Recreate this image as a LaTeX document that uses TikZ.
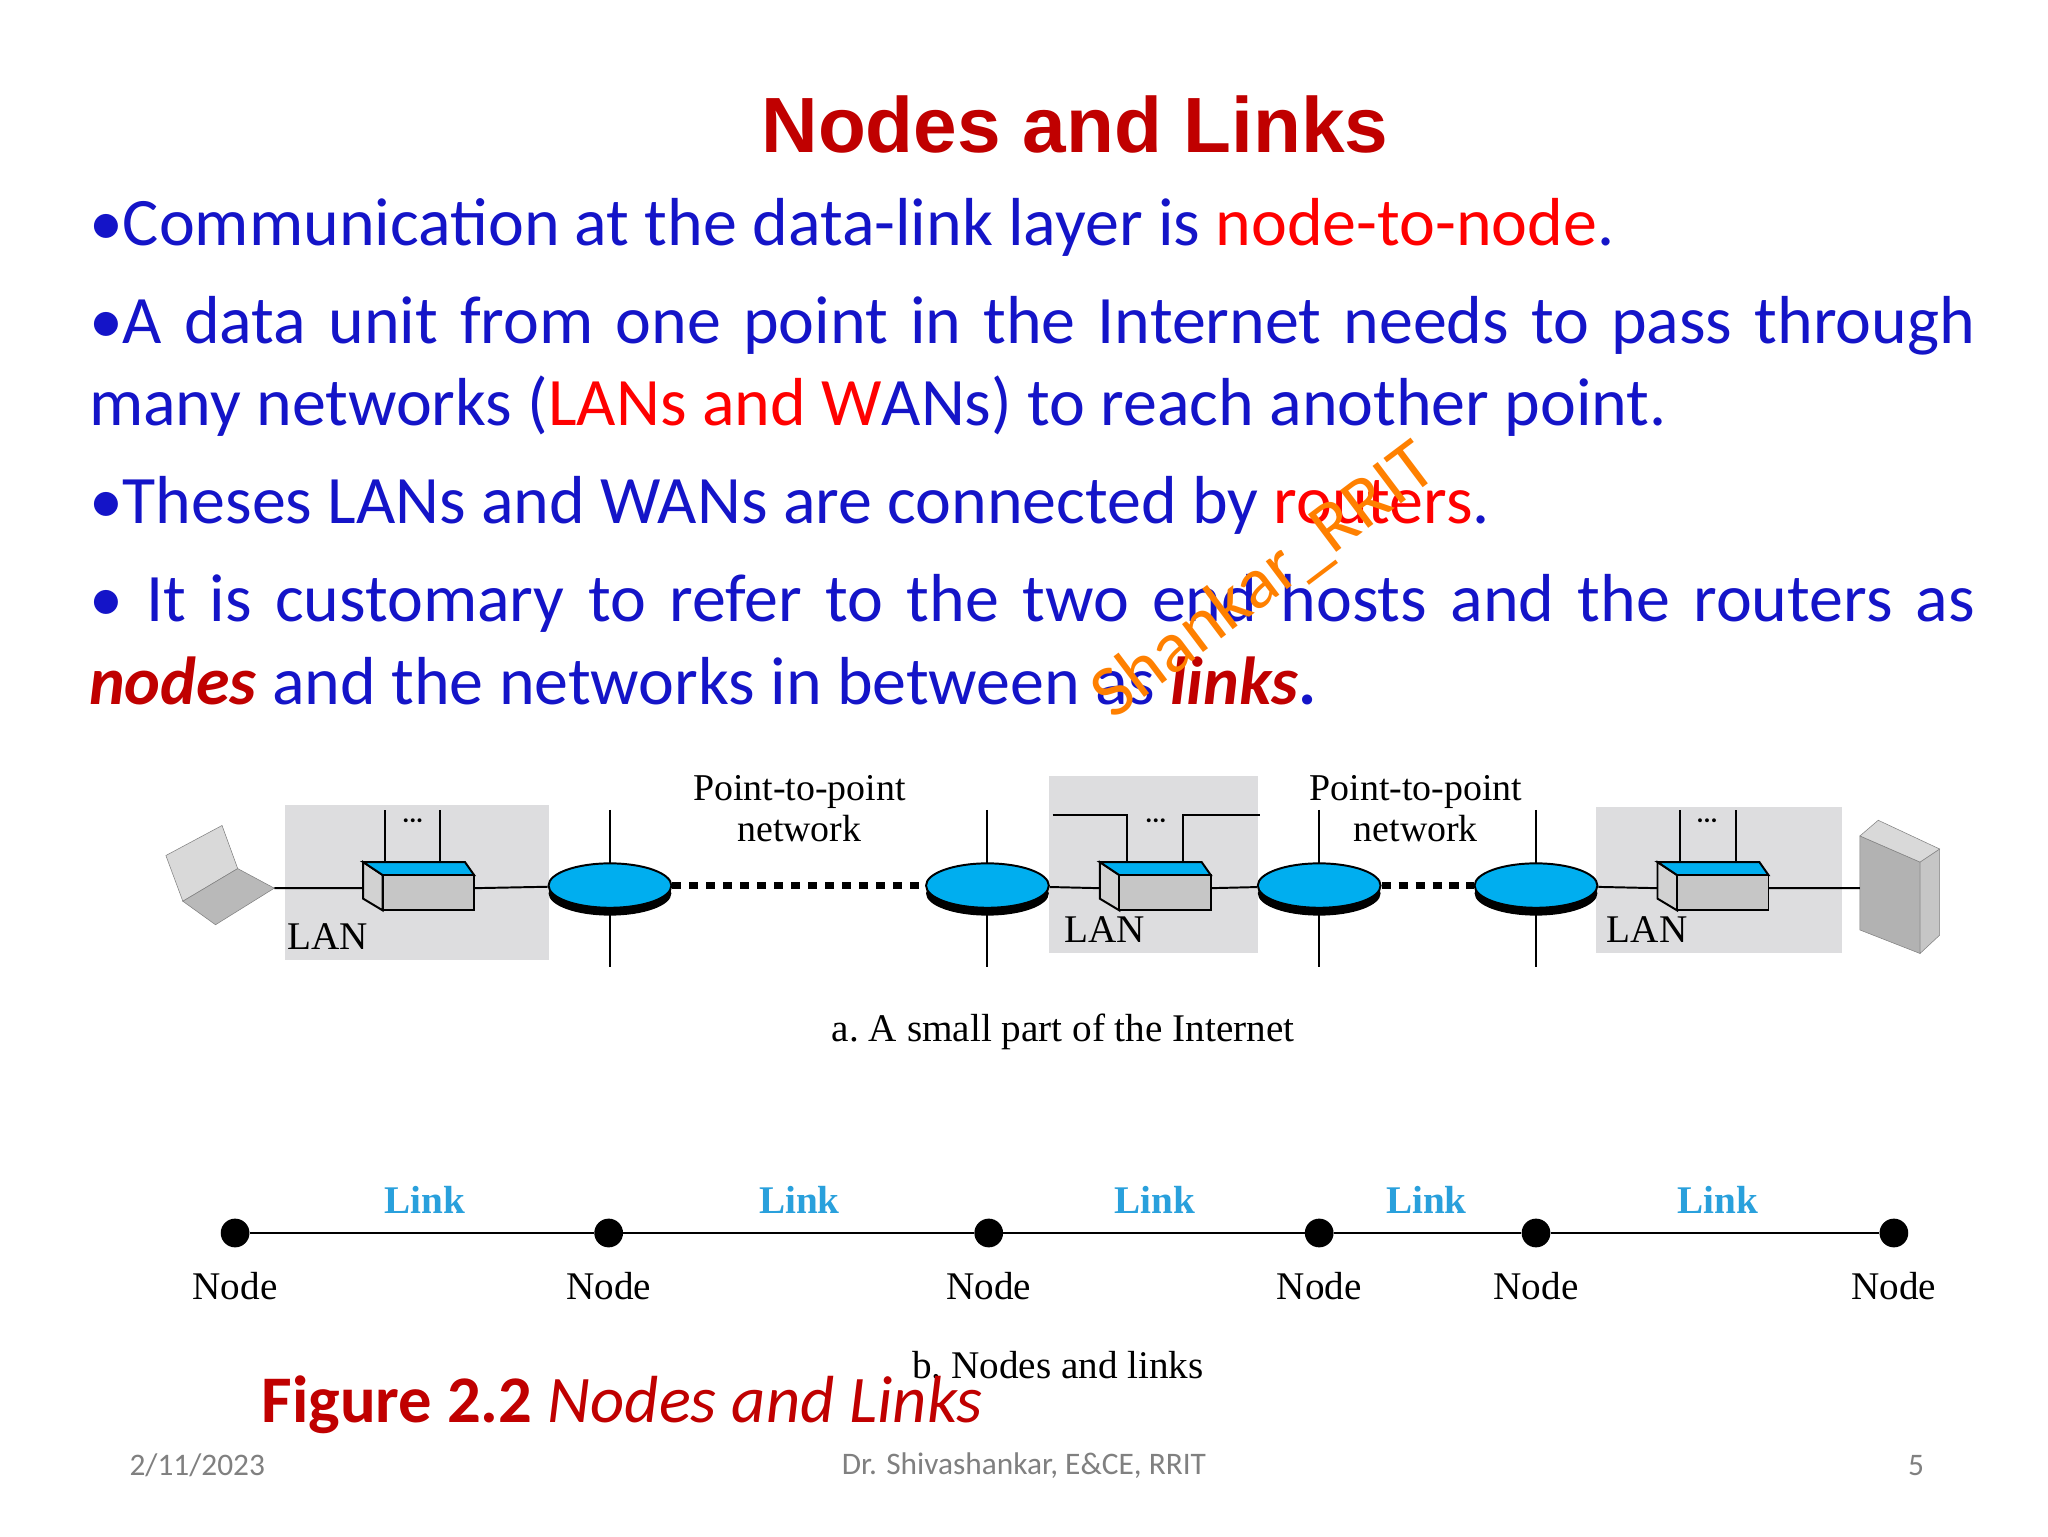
\documentclass[tikz,border=0pt]{standalone}
\usepackage{fontspec}
\setmainfont{Carlito}
\newfontfamily\titlefont{Liberation Sans}
\newfontfamily\figfont{Liberation Serif}
\usetikzlibrary{shapes.geometric,shadows}
\definecolor{txtblue}{RGB}{20,20,200}
\definecolor{hired}{RGB}{255,0,0}
\definecolor{darkred}{RGB}{192,0,0}
\definecolor{netblue}{RGB}{0,174,239}
\definecolor{langray}{RGB}{221,221,223}
\definecolor{linkblue}{RGB}{41,160,220}
\tikzset{
  line/.style={anchor=base west,inner sep=0,text=txtblue,font=\fontsize{52}{60}\selectfont},
  fig/.style={inner sep=0,font=\figfont\fontsize{30}{34}\selectfont},
  router/.style={ellipse,fill=netblue,draw=black,line width=1.5pt,minimum width=94pt,minimum height=34pt,inner sep=0,
    general shadow={fill=black,shadow yshift=-6pt}},
  dot/.style={circle,fill=black,minimum size=22pt,inner sep=0},
  link/.style={fig,text=linkblue,font=\figfont\bfseries\fontsize{30}{34}\selectfont},
}
\newcommand{\lanswitch}[2]{%
  \begin{scope}[shift={#1}]
    \filldraw[fill=gray!35,line width=1.5pt] (-15,-10) -- (0,0) -- (0,27) -- (-15,18) -- cycle;
    \filldraw[fill=netblue,line width=1.5pt] (-15,-10) -- (63,-10) -- (70,0) -- (0,0) -- cycle;
    \filldraw[fill=gray!45,line width=1.5pt] (0,0) rectangle (70,27);
    \coordinate (#2-l) at (-15,10);
    \coordinate (#2-r) at (70,10);
  \end{scope}}
\newcommand{\mysl}{\makebox[1444pt][s]}
\begin{document}
\begin{tikzpicture}[x=1pt,y=-1pt]
\useasboundingbox[fill=white] (0,0) rectangle (1568,1176);

% title and bullets
\node[text=darkred,font=\titlefont\bfseries\fontsize{60}{70}\selectfont] (title) at (823,95) {Nodes and Links};
\node[line] (l1) at (68,188) {\textbullet Communication at the data-link layer is \textcolor{hired}{node-to-node}.};
\node[line] (l2) at (68,263) {\mysl{\textbullet A data unit from one point in the Internet needs to pass through}};
\node[line] (l3) at (68,326) {many networks (\textcolor{hired}{LANs and W}ANs) to reach another point.};
\node[line] (l4) at (68,401) {\textbullet Theses LANs and WANs are connected by \textcolor{hired}{routers}.};
\node[line] (l5) at (68,476) {\mysl{\textbullet{} It is customary to refer to the two end hosts and the routers as}};
\node[line] (l6) at (68,539) {\textcolor{darkred}{\textbf{\textit{nodes}}} and the networks in between as \textcolor{darkred}{\textbf{\textit{links}}}\textbf{.}};
\node[text=orange,rotate=37,font=\fontsize{56}{60}\selectfont] (wm) at (968,445) {Shankar\_RRIT};

% LAN boxes
\fill[langray] (218,616) rectangle (420,735);
\fill[langray] (803,594) rectangle (963,730);
\fill[langray] (1222,618) rectangle (1410,730);

% laptop
\filldraw[fill=gray!30,draw=gray] (127,655) -- (170,632) -- (182,665) -- (140,690) -- cycle;
\filldraw[fill=gray!55,draw=gray] (140,690) -- (182,665) -- (210,680) -- (165,708) -- cycle;
\coordinate (pc) at (210,680);

% server
\filldraw[fill=gray!60,draw=gray] (1424,640) -- (1470,660) -- (1470,730) -- (1424,712) -- cycle;
\filldraw[fill=gray!45,draw=gray] (1470,660) -- (1485,650) -- (1485,716) -- (1470,730) -- cycle;
\filldraw[fill=gray!30,draw=gray] (1424,640) -- (1438,628) -- (1485,650) -- (1470,660) -- cycle;
\coordinate (srv) at (1424,680);

% switches
\lanswitch{(293,670)}{sw1}
\lanswitch{(857,670)}{sw2}
\lanswitch{(1284,670)}{sw3}

% routers with their stubs
\foreach \n/\x in {r1/467,r2/756,r3/1010,r4/1176}{
  \draw[line width=1.5pt] (\x,620) -- (\x,740);
  \node[router] (\n) at (\x,678) {};
}

% wires
\draw[line width=1.5pt] (pc) -- (sw1-l) (sw1-r) -- (r1);
\draw[line width=1.5pt] (r2) -- (sw2-l) (sw2-r) -- (r3);
\draw[line width=1.5pt] (r4) -- (sw3-l) (sw3-r) -- (srv);
\draw[line width=6pt,dash pattern=on 7pt off 6pt] (r1.east) -- (r2.west);
\draw[line width=6pt,dash pattern=on 7pt off 6pt] (r3.east) -- (r4.west);

% stubs over switches
\draw[line width=1.5pt] (295,660) -- (295,620) (337,660) -- (337,620);
\draw[line width=1.5pt] (806,624) -- (863,624) -- (863,660) (906,660) -- (906,624) -- (965,624);
\draw[line width=1.5pt] (1286,660) -- (1286,620) (1329,660) -- (1329,620);
\foreach \x in {316,885,1307}
  \node[fig,font=\bfseries\fontsize{20}{20}\selectfont] at (\x,628) {...};

% labels
\node[fig,align=center,font=\figfont\fontsize{29}{31}\selectfont] (p2p1) at (612,619) {Point-to-point\\network};
\node[fig,align=center,font=\figfont\fontsize{29}{31}\selectfont] (p2p2) at (1084,619) {Point-to-point\\network};
\node[fig,anchor=west] (lan1) at (220,717) {LAN};
\node[fig,anchor=west] (lan2) at (815,712) {LAN};
\node[fig,anchor=west] (lan3) at (1230,712) {LAN};
\node[fig] (capa) at (814,790) {a.\ A small part of the Internet};

% nodes and links
\foreach \n/\x in {n1/180,n2/466,n3/757,n4/1010,n5/1176,n6/1450}{
  \node[dot] (\n) at (\x,944) {};
  \node[fig] at (\x,985) {Node};
}
\draw[line width=1.5pt] (n1) -- (n2) -- (n3) -- (n4) -- (n5) -- (n6);
\foreach \x in {325,612,884,1092,1315}
  \node[link] at (\x,919) {Link};
\node[fig] (capb) at (810,1045) {b.\ Nodes and links};

% caption and footer
\node[anchor=base west,inner sep=0,text=darkred,font=\fontsize{51}{55}\selectfont] (fig) at (200,1089) {\textbf{Figure 2.2} \textit{Nodes and Links}};
\node[text=gray,font=\fontsize{24}{28}\selectfont] (date) at (151,1122) {2/11/2023};
\node[text=gray,font=\fontsize{24}{28}\selectfont] (auth) at (784,1122) {Dr. Shivashankar, E\&CE, RRIT};
\node[text=gray,font=\fontsize{24}{28}\selectfont] (page) at (1467,1122) {5};
\end{tikzpicture}
\end{document}
